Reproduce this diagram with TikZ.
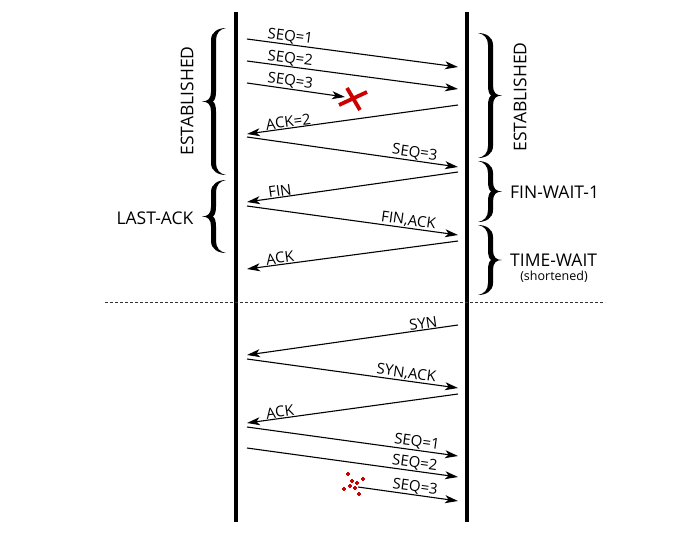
\documentclass[tikz,border=0pt]{standalone}
\usepackage{fontspec}
\setmainfont{Open Sans}
\usetikzlibrary{arrows.meta}
\newcommand{\cbrace}[4]{%
 \pgfmathsetmacro{\bH}{#3-#2}%
 \pgfmathsetmacro{\bM}{\bH/2}%
 \begin{scope}[shift={(#1,#2)},xscale=#4]
 \fill (0,0) .. controls (8,0) and (15,4) .. (15,12)
   -- (15,\bM-10)
   .. controls (15,\bM-3) and (18,\bM) .. (24,\bM)
   .. controls (18,\bM) and (15,\bM+3) .. (15,\bM+10)
   -- (15,\bH-12)
   .. controls (15,\bH-4) and (8,\bH) .. (0,\bH)
   .. controls (6,\bH-1) and (10,\bH-5) .. (10,\bH-12)
   -- (10,\bM+10)
   .. controls (10,\bM+4) and (11.5,\bM+1) .. (13,\bM)
   .. controls (11.5,\bM-1) and (10,\bM-4) .. (10,\bM-10)
   -- (10,12)
   .. controls (10,5) and (6,1) .. (0,0) -- cycle;
 \end{scope}}
\begin{document}
\begin{tikzpicture}[x=1pt,y=-1pt,
  life/.style={line width=4.5pt},
  msg/.style={line width=1.1pt,-{Stealth[length=13pt,width=8pt,inset=3.5pt]}},
  lbl/.style={above,sloped,inner sep=0.5pt,font=\fontsize{15}{17}\selectfont},
  state/.style={font=\fontsize{17.5}{20}\selectfont,inner sep=0pt},
  lost/.style={draw=red!80!black,line width=1.8pt}]
\useasboundingbox (0,0) rectangle (697,547);
% lifelines
\coordinate (lt) at (236,12); \coordinate (lb) at (236,522);
\coordinate (rt) at (467,12); \coordinate (rb) at (467,522);
\draw[life] (lt) -- (lb);
\draw[life] (rt) -- (rb);
% separator
\coordinate (sepl) at (105,302); \coordinate (sepr) at (605,302);
\draw[line width=0.9pt,dash pattern=on 3pt off 2pt,black!80] (sepl) -- (sepr);
% message endpoints
\foreach \n/\y in {a1/39,a2/61,a3/83,b4/134,a5/137,b6/202,a7/206,b8/269,b9/355,a10/359,b11/423,a12/427,a13/448}
  \coordinate (\n) at (247,\y);
\foreach \n/\y in {e1/67,e2/89,s4/105,e5/167,s6/172,e7/235,s8/241,s9/325,e10/388,s11/394,e12/456,e13/477,e14/501}
  \coordinate (\n) at (458,\y);
\coordinate (e3) at (345,97);
\coordinate (a14) at (358,487);
% messages
\draw[msg] (a1) -- node[lbl,pos=.2] {SEQ=1} (e1);
\draw[msg] (a2) -- node[lbl,pos=.2] {SEQ=2} (e2);
\draw[msg] (a3) -- node[lbl,pos=.43] {SEQ=3} (e3);
\draw[msg] (s4) -- node[lbl,pos=.8] {ACK=2} (b4);
\draw[msg] (a5) -- node[lbl,pos=.79] {SEQ=3} (e5);
\draw[msg] (s6) -- node[lbl,pos=.84] {FIN} (b6);
\draw[msg] (a7) -- node[lbl,pos=.76] {FIN,ACK} (e7);
\draw[msg] (s8) -- node[lbl,pos=.84] {ACK} (b8);
\draw[msg] (s9) -- node[lbl,pos=.16] {SYN} (b9);
\draw[msg] (a10) -- node[lbl,pos=.75] {SYN,ACK} (e10);
\draw[msg] (s11) -- node[lbl,pos=.84] {ACK} (b11);
\draw[msg] (a12) -- node[lbl,pos=.8] {SEQ=1} (e12);
\draw[msg] (a13) -- node[lbl,pos=.79] {SEQ=2} (e13);
\draw[msg] (a14) -- node[lbl,pos=.56] {SEQ=3} (e14);
% red cross
\coordinate (x1) at (347,88); \coordinate (x2) at (360,110);
\coordinate (x3) at (339,105); \coordinate (x4) at (367,92);
\draw[red!80!black,line width=3.8pt] (x1) -- (x2) (x3) -- (x4);
% scattered packet
\foreach \px/\py in {348/474,363/479,352/481,357/483,350/486,355/488,344/489,359/494}
  \draw[lost] (\px-2.2,\py) -- (\px+2.2,\py) (\px,\py-2.2) -- (\px,\py+2.2);
% braces
\cbrace{226}{28}{175}{-1}
\cbrace{226}{180}{253}{-1}
\cbrace{478}{33}{158}{1}
\cbrace{478}{161}{222}{1}
\cbrace{478}{225}{295}{1}
% state labels
\node[state,rotate=90] (estl) at (187,101) {ESTABLISHED};
\node[state,rotate=90] (estr) at (520,97) {ESTABLISHED};
\node[state] (lack) at (155,218) {LAST-ACK};
\node[state,anchor=west] (fw1) at (510,192) {FIN-WAIT-1};
\node[state,anchor=west] (tw) at (510,260) {TIME-WAIT};
\node[font=\fontsize{12.5}{14}\selectfont,inner sep=0pt] (short) at (554,277) {(shortened)};
\end{tikzpicture}
\end{document}
